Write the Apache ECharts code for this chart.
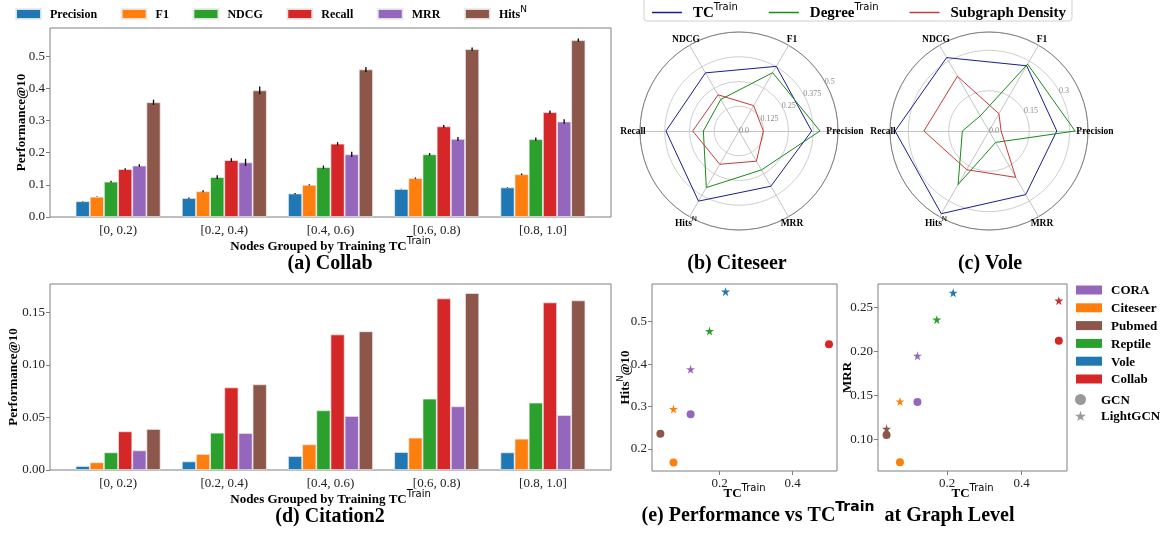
<!DOCTYPE html>
<html><head><meta charset="utf-8">
<script src="https://cdn.jsdelivr.net/npm/echarts@6/dist/echarts.min.js"></script>
<style>html,body{margin:0;padding:0;background:#fff}#c{width:1166px;height:537px}</style>
</head><body><div id="c"></div>
<script>
// ---------- data ----------
const groups = ['[0, 0.2)', '[0.2, 0.4)', '[0.4, 0.6)', '[0.6, 0.8)', '[0.8, 1.0]'];
const metrics = ['Precision', 'F1', 'NDCG', 'Recall', 'MRR', 'HitsN'];
const metricColors = ['#1f77b4', '#ff7f0e', '#2ca02c', '#d62728', '#9467bd', '#8c564b'];

const collabPrecision = [0.049, 0.059, 0.073, 0.087, 0.092];
const collabF1 = [0.063, 0.080, 0.100, 0.121, 0.133];
const collabNDCG = [0.110, 0.124, 0.155, 0.195, 0.242];
const collabRecall = [0.149, 0.177, 0.228, 0.282, 0.326];
const collabMRR = [0.160, 0.170, 0.195, 0.243, 0.297];
const collabHits = [0.357, 0.394, 0.459, 0.522, 0.550];

const collabPrecisionErr = [0.001, 0.002, 0.002, 0.001, 0.001];
const collabF1Err = [0.001, 0.003, 0.002, 0.002, 0.002];
const collabNDCGErr = [0.003, 0.006, 0.005, 0.004, 0.005];
const collabRecallErr = [0.003, 0.006, 0.005, 0.004, 0.005];
const collabMRRErr = [0.004, 0.011, 0.008, 0.006, 0.007];
const collabHitsErr = [0.008, 0.012, 0.008, 0.005, 0.005];

const citPrecision = [0.0038, 0.0082, 0.0133, 0.0171, 0.0168];
const citF1 = [0.0073, 0.0152, 0.0244, 0.0308, 0.0298];
const citNDCG = [0.0168, 0.0355, 0.0568, 0.0679, 0.0641];
const citRecall = [0.0368, 0.0786, 0.1290, 0.1633, 0.1595];
const citMRR = [0.0187, 0.0352, 0.0514, 0.0606, 0.0523];
const citHits = [0.0390, 0.0815, 0.1320, 0.1684, 0.1614];

const collabTicks = [0, 0.1, 0.2, 0.3, 0.4, 0.5];
const citTicks = [0, 0.05, 0.10, 0.15];

const radarAxes = ['Precision', 'F1', 'NDCG', 'Recall', 'HitsN', 'MRR'];
const radarNames = ['TC', 'Degree', 'Subgraph Density'];
const radarColors = ['#1c1c8e', '#1a8a1a', '#c43c3c'];
const citeseerTC = [0.367, 0.377, 0.339, 0.369, 0.409, 0.322];
const citeseerDegree = [0.409, 0.340, 0.184, 0.180, 0.330, 0.227];
const citeseerDensity = [0.123, 0.148, 0.211, 0.234, 0.194, 0.176];
const voleTC = [0.252, 0.280, 0.315, 0.349, 0.355, 0.273];
const voleDegree = [0.320, 0.287, 0.065, 0.099, 0.230, 0.049];
const voleDensity = [0.045, 0.074, 0.235, 0.242, 0.166, 0.199];
const citeseerRingMax = 0.5, citeseerRingStep = 0.125;
const voleRingMax = 0.368, voleRingStep = 0.15;

const datasets = ['CORA', 'Citeseer', 'Pubmed', 'Reptile', 'Vole', 'Collab'];
const datasetColors = ['#9467bd', '#ff7f0e', '#8c564b', '#2ca02c', '#1f77b4', '#d62728'];
const tcTrain = [0.120, 0.073, 0.037, 0.172, 0.216, 0.500];
const hitsGCN = [0.282, 0.168, 0.236, null, null, 0.447];
const hitsLightGCN = [0.388, 0.294, null, 0.478, 0.571, null];
const mrrGCN = [0.1425, 0.074, 0.105, null, null, 0.212];
const mrrLightGCN = [0.195, 0.143, 0.112, 0.236, 0.2666, 0.2576];
const tcTicks = [0.2, 0.4];
const hitsTicks = [0.2, 0.3, 0.4, 0.5];
const mrrTicks = [0.10, 0.15, 0.20, 0.25];

// ---------- styles ----------
const SERIF = 'Liberation Serif';
const SUPF = 'DejaVu Sans';
const STAR = 'path://M50,0 L61,35 L98,35 L68,57 L79,91 L50,70 L21,91 L32,57 L2,35 L39,35 Z';
const GRAY = '#7f7f7f';
function rich(size, supSize) {
  const raise = Math.max(0, Math.round((size + 2) / 2 + 0.4 * size - (supSize + 1) / 2));
  return {
    b: { fontFamily: SERIF, fontWeight: 'bold', fontSize: size, lineHeight: size + 2, verticalAlign: 'bottom', color: '#000' },
    s: { fontFamily: SUPF, fontSize: supSize, lineHeight: supSize + 1, verticalAlign: 'bottom', padding: [0, 0, raise, 0], color: '#000' }
  };
}
const tickLabel = { fontFamily: SERIF, fontSize: 13, color: '#222' };

const collabVals = [collabPrecision, collabF1, collabNDCG, collabRecall, collabMRR, collabHits];
const collabErrs = [collabPrecisionErr, collabF1Err, collabNDCGErr, collabRecallErr, collabMRRErr, collabHitsErr];
const citVals = [citPrecision, citF1, citNDCG, citRecall, citMRR, citHits];

const series = [];
metrics.forEach((m, j) => {
  series.push({ type: 'bar', name: m, xAxisIndex: 0, yAxisIndex: 0, data: collabVals[j],
    barGap: 0, barCategoryGap: '20%', itemStyle: { color: metricColors[j], borderColor: 'rgba(235,235,235,0.9)', borderWidth: 0.8 } });
});
metrics.forEach((m, j) => {
  series.push({ type: 'bar', name: m, xAxisIndex: 2, yAxisIndex: 2, data: citVals[j],
    barGap: 0, barCategoryGap: '20%', itemStyle: { color: metricColors[j], borderColor: 'rgba(235,235,235,0.9)', borderWidth: 0.8 } });
});
const errData = [];
metrics.forEach((m, j) => groups.forEach((g, i) => errData.push([i, j, collabVals[j][i], collabErrs[j][i]])));
series.push({
  type: 'custom', name: 'err', xAxisIndex: 0, yAxisIndex: 0, data: errData, encode: { x: 0, y: 2 }, z: 5,
  renderItem(params, api) {
    const ci = api.value(0), si = api.value(1), v = api.value(2), e = api.value(3);
    const band = api.size([1, 0])[0];
    const bw = band * 0.8 / 6;
    const xc = api.coord([ci, 0])[0] + (si - 2.5) * bw;
    const y1 = api.coord([ci, v - e])[1], y2 = api.coord([ci, v + e])[1];
    return { type: 'line', shape: { x1: xc, y1: y1, x2: xc, y2: y2 }, style: { stroke: '#000', lineWidth: 1.3 } };
  }
});

function radarSeries(idx, vals) {
  return { type: 'radar', radarIndex: idx, symbol: 'none', z: 4,
    data: radarNames.map((n, k) => ({ name: n, value: vals[k], lineStyle: { color: radarColors[k], width: 1 }, itemStyle: { color: radarColors[k] } })) };
}
series.push(radarSeries(0, [citeseerTC, citeseerDegree, citeseerDensity]));
series.push(radarSeries(1, [voleTC, voleDegree, voleDensity]));

function scatterSeries(gi, gcn, lgcn) {
  datasets.forEach((d, k) => {
    const data = [];
    if (gcn[k] != null) data.push({ value: [tcTrain[k], gcn[k]], symbol: 'circle', symbolSize: 8 });
    if (lgcn[k] != null) data.push({ value: [tcTrain[k], lgcn[k]], symbol: STAR, symbolSize: 9 });
    series.push({ type: 'scatter', name: d, xAxisIndex: gi, yAxisIndex: gi, data: data, itemStyle: { color: datasetColors[k], opacity: 1 } });
  });
}
scatterSeries(4, hitsGCN, hitsLightGCN);
scatterSeries(5, mrrGCN, mrrLightGCN);
series.push({ type: 'scatter', name: 'GCN', xAxisIndex: 4, yAxisIndex: 4, data: [], symbol: 'circle', itemStyle: { color: GRAY } });
series.push({ type: 'scatter', name: 'LightGCN', xAxisIndex: 4, yAxisIndex: 4, data: [], symbol: STAR, itemStyle: { color: GRAY } });

function radarCfg(center, max) {
  return {
    center: center, radius: 99, startAngle: 0, shape: 'circle', splitNumber: 1,
    indicator: radarAxes.map(a => ({ name: a, max: max, min: 0 })),
    axisLine: { lineStyle: { color: '#c4c4c4', width: 1 } },
    splitLine: { show: false }, splitArea: { show: false },
    nameGap: 7,
    axisName: {
      align: 'center', verticalAlign: 'middle',
      formatter: v => v === 'HitsN' ? '{b|Hits}{s|N}' : '{b|' + v + '}',
      rich: rich(9.5, 7)
    }
  };
}
function fmtRing(v) { return v === 0 ? '0.0' : String(+v.toFixed(3)); }
function ringLabel(extra) {
  return Object.assign({ fontFamily: SERIF, fontSize: 8, color: '#8a8a8a', margin: 0, align: 'left', verticalAlign: 'middle', formatter: fmtRing }, extra || {});
}
function titleStyle() { return { fontFamily: SERIF, fontWeight: 'bold', fontSize: 20, color: '#000' }; }

const option = {
  animation: false,
  backgroundColor: '#fff',
  textStyle: { fontFamily: SERIF },
  title: [
    { text: '(a) Collab', left: 330, top: 254, textAlign: 'center', padding: 0, textStyle: titleStyle() },
    { text: '(d) Citation2', left: 330, top: 507, textAlign: 'center', padding: 0, textStyle: titleStyle() },
    { text: '(b) Citeseer', left: 737, top: 254, textAlign: 'center', padding: 0, textStyle: titleStyle() },
    { text: '(c) Vole', left: 990, top: 254, textAlign: 'center', padding: 0, textStyle: titleStyle() },
    { text: '{b|(e) Performance vs TC}{s|Train}{b|  at Graph Level}', left: 828, top: 504, textAlign: 'center', padding: 0,
      textStyle: { rich: rich(20, 14) } }
  ],
  legend: [
    { data: metrics, left: 10, top: 0, itemWidth: 25, itemHeight: 10, itemGap: 23.5, icon: 'rect', selectedMode: false,
      formatter: n => n === 'HitsN' ? '{b|Hits}{s|N}' : '{b|' + n + '}',
      textStyle: { padding: [0, 0, 0, 4], rich: rich(12, 9) } },
    { data: radarNames, left: 644, top: -8, padding: [10, 6, 0, 8], itemWidth: 30, itemHeight: 1.5, itemGap: 31, icon: 'rect', selectedMode: false,
      borderColor: '#d0d0d0', borderWidth: 1, borderRadius: 3,
      formatter: n => n === 'Subgraph Density' ? '{b|' + n + '}' : '{b|' + n + '}{s|Train}',
      textStyle: { padding: [0, 0, 0, 6], rich: rich(15, 10) } },
    { data: datasets, left: 1071, top: 279.5, orient: 'vertical', itemWidth: 26, itemHeight: 9, itemGap: 4.8, icon: 'rect', selectedMode: false,
      formatter: n => '{b|' + n + '}', textStyle: { padding: [0, 0, 0, 4], rich: rich(13, 9) } },
    { data: [{ name: 'GCN', icon: 'circle' }, { name: 'LightGCN', icon: STAR }], left: 1070, top: 389, orient: 'vertical', itemWidth: 11, itemHeight: 11, itemGap: 3.4, selectedMode: false,
      formatter: n => '{b|' + n + '}', textStyle: { padding: [0, 0, 0, 10], rich: rich(13, 9) } }
  ],
  grid: [
    { left: 65, top: 28, width: 531, height: 189 },
    { left: 50, top: 28, width: 561, height: 189, show: true, borderColor: GRAY, borderWidth: 1, backgroundColor: 'transparent' },
    { left: 65, top: 284, width: 531, height: 186 },
    { left: 50, top: 284, width: 561, height: 186, show: true, borderColor: GRAY, borderWidth: 1, backgroundColor: 'transparent' },
    { left: 652, top: 284, width: 185, height: 187, show: true, borderColor: GRAY, borderWidth: 1, backgroundColor: 'transparent' },
    { left: 878, top: 284, width: 189, height: 187, show: true, borderColor: GRAY, borderWidth: 1, backgroundColor: 'transparent' }
  ],
  xAxis: [
    { gridIndex: 0, type: 'category', data: groups, axisLine: { show: false }, axisTick: { show: false },
      axisLabel: Object.assign({ margin: 7 }, tickLabel),
      name: '{b|Nodes Grouped by Training TC}{s|Train}', nameLocation: 'middle', nameGap: 21.5, nameMoveOverlap: false, nameTextStyle: { rich: rich(13, 10) } },
    { gridIndex: 1, type: 'value', show: false },
    { gridIndex: 2, type: 'category', data: groups, axisLine: { show: false }, axisTick: { show: false },
      axisLabel: Object.assign({ margin: 7 }, tickLabel),
      name: '{b|Nodes Grouped by Training TC}{s|Train}', nameLocation: 'middle', nameGap: 21.5, nameMoveOverlap: false, nameTextStyle: { rich: rich(13, 10) } },
    { gridIndex: 3, type: 'value', show: false },
    { gridIndex: 4, type: 'value', min: 0.014, max: 0.522, axisLine: { show: false }, splitLine: { show: false },
      axisTick: { customValues: tcTicks, length: 4, lineStyle: { color: GRAY } },
      axisLabel: Object.assign({ customValues: tcTicks, formatter: v => v.toFixed(1), margin: 6 }, tickLabel),
      name: '{b|TC}{s|Train}', nameLocation: 'middle', nameGap: 14.5, nameMoveOverlap: false, nameTextStyle: { rich: rich(13, 10) } },
    { gridIndex: 5, type: 'value', min: 0.014, max: 0.522, axisLine: { show: false }, splitLine: { show: false },
      axisTick: { customValues: tcTicks, length: 4, lineStyle: { color: GRAY } },
      axisLabel: Object.assign({ customValues: tcTicks, formatter: v => v.toFixed(1), margin: 6 }, tickLabel),
      name: '{b|TC}{s|Train}', nameLocation: 'middle', nameGap: 14.5, nameMoveOverlap: false, nameTextStyle: { rich: rich(13, 10) } }
  ],
  yAxis: [
    { gridIndex: 0, type: 'value', min: 0, max: 0.588, offset: 15, axisLine: { show: false }, splitLine: { show: false },
      axisTick: { show: true, customValues: collabTicks, length: 4, lineStyle: { color: GRAY } },
      axisLabel: Object.assign({ customValues: collabTicks, formatter: v => v.toFixed(1), margin: 5 }, tickLabel),
      name: '{b|Performance@10}', nameLocation: 'middle', nameGap: 22, nameMoveOverlap: false, nameTextStyle: { rich: rich(13, 9) } },
    { gridIndex: 1, type: 'value', show: false },
    { gridIndex: 2, type: 'value', min: 0, max: 0.177, offset: 15, axisLine: { show: false }, splitLine: { show: false },
      axisTick: { show: true, customValues: citTicks, length: 4, lineStyle: { color: GRAY } },
      axisLabel: Object.assign({ customValues: citTicks, formatter: v => v.toFixed(2), margin: 5 }, tickLabel),
      name: '{b|Performance@10}', nameLocation: 'middle', nameGap: 29.5, nameMoveOverlap: false, nameTextStyle: { rich: rich(13, 9) } },
    { gridIndex: 3, type: 'value', show: false },
    { gridIndex: 4, type: 'value', min: 0.148, max: 0.589, axisLine: { show: false }, splitLine: { show: false },
      axisTick: { customValues: hitsTicks, length: 4, lineStyle: { color: GRAY } },
      axisLabel: Object.assign({ customValues: hitsTicks, formatter: v => v.toFixed(1), margin: 5 }, tickLabel),
      name: '{b|Hits}{s|N}{b|@10}', nameLocation: 'middle', nameGap: 19.5, nameMoveOverlap: false, nameTextStyle: { rich: rich(13, 8) } },
    { gridIndex: 5, type: 'value', min: 0.064, max: 0.2765, axisLine: { show: false }, splitLine: { show: false },
      axisTick: { customValues: mrrTicks, length: 4, lineStyle: { color: GRAY } },
      axisLabel: Object.assign({ customValues: mrrTicks, formatter: v => v.toFixed(2), margin: 5 }, tickLabel),
      name: '{b|MRR}', nameLocation: 'middle', nameGap: 23.5, nameMoveOverlap: false, nameTextStyle: { rich: rich(13, 9) } }
  ],
  polar: [ { center: [739, 131], radius: 99 }, { center: [989, 131], radius: 99 } ],
  angleAxis: [
    { polarIndex: 0, type: 'value', min: 0, max: 360, startAngle: 30, axisLine: { show: true, lineStyle: { color: '#808080', width: 1 } },
      axisTick: { show: false }, axisLabel: { show: false }, splitLine: { show: false } },
    { polarIndex: 1, type: 'value', min: 0, max: 360, startAngle: 30, axisLine: { show: true, lineStyle: { color: '#808080', width: 1 } },
      axisTick: { show: false }, axisLabel: { show: false }, splitLine: { show: false } }
  ],
  radiusAxis: [
    { polarIndex: 0, type: 'value', min: 0, max: citeseerRingMax, interval: citeseerRingStep, axisLine: { show: false }, axisTick: { show: false },
      splitLine: { show: true, showMaxLine: false, lineStyle: { color: '#cfcfcf', width: 1 } },
      axisLabel: ringLabel() },
    { polarIndex: 1, type: 'value', min: 0, max: voleRingMax, interval: voleRingStep, axisLine: { show: false }, axisTick: { show: false },
      splitLine: { show: true, showMaxLine: false, lineStyle: { color: '#cfcfcf', width: 1 } },
      axisLabel: ringLabel({ showMaxLabel: false }) }
  ],
  radar: [ radarCfg([739, 131], citeseerRingMax), radarCfg([989, 131], voleRingMax) ],
  series: series
};
const chart = echarts.init(document.getElementById('c'), null, { renderer: 'canvas' });
chart.setOption(option);
</script></body></html>
